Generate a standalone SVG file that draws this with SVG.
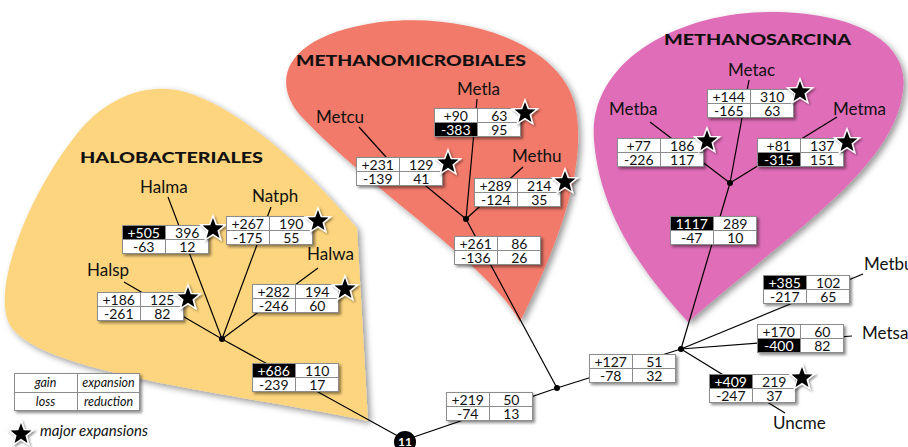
<svg xmlns="http://www.w3.org/2000/svg" xmlns:xlink="http://www.w3.org/1999/xlink" width="908" height="447" viewBox="0 0 908 447">
  <defs>
    <filter id="blobShadow" x="-10%" y="-10%" width="125%" height="125%">
      <feDropShadow dx="3" dy="3" stdDeviation="3" flood-color="#000" flood-opacity="0.4"/>
    </filter>
    <filter id="boxShadow" x="-10%" y="-20%" width="130%" height="160%">
      <feDropShadow dx="2" dy="2" stdDeviation="1.5" flood-color="#000" flood-opacity="0.45"/>
    </filter>
    <filter id="starShadow" x="-40%" y="-40%" width="190%" height="190%">
      <feDropShadow dx="1.5" dy="1.5" stdDeviation="1.2" flood-color="#000" flood-opacity="0.45"/>
    </filter>
    <!-- 2x2 count table: background, then grid drawn on top of any dark cell -->
    <rect id="boxBg" width="87" height="29" fill="#fff" filter="url(#boxShadow)"/>
    <g id="boxGrid" fill="none" stroke="#8c8c8c" stroke-width="1">
      <rect x="0.5" y="0.5" width="86" height="28"/>
      <path d="M43.5 0V29M0 14.5H87"/>
    </g>
    <rect id="darkTL" x="0.5" y="0.5" width="43" height="14" fill="#000"/>
    <rect id="darkBL" x="0.5" y="14.5" width="43" height="14" fill="#000"/>
    <path id="star" d="M0,-11 L2.73,-3.75 L10.46,-3.4 L4.41,1.43 L6.47,8.9 L0,4.64 L-6.47,8.9 L-4.41,1.43 L-10.46,-3.4 L-2.73,-3.75 Z"
          fill="#000" stroke="#fff" stroke-width="3" paint-order="stroke" stroke-linejoin="miter" filter="url(#starShadow)"/>
  </defs>
  <style>
    .lbl { font-family: Lato, "Open Sans", "Liberation Sans", sans-serif; font-size: 17px; fill: #111; }
    .num { font-family: Lato, "Open Sans", "Liberation Sans", sans-serif; font-size: 14px; fill: #111; text-anchor: middle; }
    .inv { fill: #fff; }
    .title { font-family: Lato, "Liberation Sans", sans-serif; font-weight: 900; font-size: 15.5px; fill: #111; }
    .legend { font-family: Lato, "Open Sans", "Liberation Sans", sans-serif; font-style: italic; fill: #111; }
    .edge { fill: none; stroke: #000; stroke-width: 1.2; }
    .dot { fill: #000; }
  </style>

  <!-- clade backgrounds -->
  <g id="clades">
    <path id="halobacteriales-bg" d="M368 421 C250 395, 40 375, 10 325 C-10 290, 30 190, 80 130 C110 95, 150 82, 185 92 C230 105, 290 150, 357 228 Z" fill="#fdd57e" filter="url(#blobShadow)"/>
    <path id="methanomicrobiales-bg" d="M520 322 C490 265, 370 190, 300 115 C270 80, 285 35, 380 22 C470 12, 560 45, 575 105 C588 165, 560 240, 520 322 Z" fill="#f27a6a" filter="url(#blobShadow)"/>
    <path id="methanosarcina-bg" d="M688 322 C650 280, 600 220, 594 140 C588 60, 680 12, 770 12 C860 12, 910 45, 903 90 C895 170, 780 240, 688 322 Z" fill="#e06db8" filter="url(#blobShadow)"/>
  </g>

  <g id="clade-titles">
    <text class="title" x="80" y="163" textLength="183" lengthAdjust="spacingAndGlyphs">HALOBACTERIALES</text>
    <text class="title" x="296" y="66" textLength="230" lengthAdjust="spacingAndGlyphs">METHANOMICROBIALES</text>
    <text class="title" x="664" y="45" textLength="187" lengthAdjust="spacingAndGlyphs">METHANOSARCINA</text>
  </g>

  <!-- branches -->
  <g id="connectors">
    <polyline class="edge" points="168,197 222,339"/>
    <polyline class="edge" points="271,207 222,339"/>
    <polyline class="edge" points="318,268 222,339"/>
    <polyline class="edge" points="124,282 222,339"/>
    <polyline class="edge" points="222,339 405,440"/>
    <polyline class="edge" points="405,440 557,388"/>
    <polyline class="edge" points="557,388 681,349"/>
    <polyline class="edge" points="557,388 466,219"/>
    <polyline class="edge" points="477,99 466,219"/>
    <polyline class="edge" points="359,127 386,157 426,186 466,219"/>
    <polyline class="edge" points="523,167 466,219"/>
    <polyline class="edge" points="730,183 681,349"/>
    <polyline class="edge" points="749,80 730,183"/>
    <polyline class="edge" points="650,122 730,183"/>
    <polyline class="edge" points="837,117 730,183"/>
    <polyline class="edge" points="681,349 863,274"/>
    <polyline class="edge" points="681,349 852,336"/>
    <polyline class="edge" points="681,349 785,413"/>
    <circle class="dot" cx="222" cy="339" r="3"/>
    <circle class="dot" cx="466" cy="219" r="3"/>
    <circle class="dot" cx="730" cy="183" r="3"/>
    <circle class="dot" cx="557" cy="388" r="3"/>
    <circle class="dot" cx="681" cy="349" r="3"/>
  </g>

  <!-- Halobacteriales -->
  <g id="halma">
    <text class="lbl" x="140" y="193">Halma</text>
    <g transform="translate(122,225)">
      <use href="#boxBg"/><use href="#darkTL"/><use href="#boxGrid"/>
      <text class="num inv" x="21.75" y="12.5">+505</text><text class="num" x="65.25" y="12.5">396</text>
      <text class="num" x="21.75" y="27">-63</text><text class="num" x="65.25" y="27">12</text>
    </g>
    <use href="#star" x="213" y="229"/>
  </g>
  <g id="natph">
    <text class="lbl" x="252" y="202">Natph</text>
    <g transform="translate(226,216)">
      <use href="#boxBg"/><use href="#boxGrid"/>
      <text class="num" x="21.75" y="12.5">+267</text><text class="num" x="65.25" y="12.5">190</text>
      <text class="num" x="21.75" y="27">-175</text><text class="num" x="65.25" y="27">55</text>
    </g>
    <use href="#star" x="318" y="221"/>
  </g>
  <g id="halwa">
    <text class="lbl" x="307" y="260">Halwa</text>
    <g transform="translate(252,284)">
      <use href="#boxBg"/><use href="#boxGrid"/>
      <text class="num" x="21.75" y="12.5">+282</text><text class="num" x="65.25" y="12.5">194</text>
      <text class="num" x="21.75" y="27">-246</text><text class="num" x="65.25" y="27">60</text>
    </g>
    <use href="#star" x="345" y="289"/>
  </g>
  <g id="halsp">
    <text class="lbl" x="87" y="276">Halsp</text>
    <g transform="translate(97,292)">
      <use href="#boxBg"/><use href="#boxGrid"/>
      <text class="num" x="21.75" y="12.5">+186</text><text class="num" x="65.25" y="12.5">125</text>
      <text class="num" x="21.75" y="27">-261</text><text class="num" x="65.25" y="27">82</text>
    </g>
    <use href="#star" x="188" y="298"/>
  </g>
  <g id="halobacteriales-stem">
    <g transform="translate(252,363)">
      <use href="#boxBg"/><use href="#darkTL"/><use href="#boxGrid"/>
      <text class="num inv" x="21.75" y="12.5">+686</text><text class="num" x="65.25" y="12.5">110</text>
      <text class="num" x="21.75" y="27">-239</text><text class="num" x="65.25" y="27">17</text>
    </g>
  </g>

  <!-- Methanomicrobiales -->
  <g id="metla">
    <text class="lbl" x="457" y="95">Metla</text>
    <g transform="translate(434,108)">
      <use href="#boxBg"/><use href="#darkBL"/><use href="#boxGrid"/>
      <text class="num" x="21.75" y="12.5">+90</text><text class="num" x="65.25" y="12.5">63</text>
      <text class="num inv" x="21.75" y="27">-383</text><text class="num" x="65.25" y="27">95</text>
    </g>
    <use href="#star" x="525" y="113"/>
  </g>
  <g id="metcu">
    <text class="lbl" x="316" y="123">Metcu</text>
    <g transform="translate(356,157)">
      <use href="#boxBg"/><use href="#boxGrid"/>
      <text class="num" x="21.75" y="12.5">+231</text><text class="num" x="65.25" y="12.5">129</text>
      <text class="num" x="21.75" y="27">-139</text><text class="num" x="65.25" y="27">41</text>
    </g>
    <use href="#star" x="448" y="163"/>
  </g>
  <g id="methu">
    <text class="lbl" x="512" y="162">Methu</text>
    <g transform="translate(474,178)">
      <use href="#boxBg"/><use href="#boxGrid"/>
      <text class="num" x="21.75" y="12.5">+289</text><text class="num" x="65.25" y="12.5">214</text>
      <text class="num" x="21.75" y="27">-124</text><text class="num" x="65.25" y="27">35</text>
    </g>
    <use href="#star" x="565" y="182"/>
  </g>
  <g id="methanomicrobiales-stem">
    <g transform="translate(454,236)">
      <use href="#boxBg"/><use href="#boxGrid"/>
      <text class="num" x="21.75" y="12.5">+261</text><text class="num" x="65.25" y="12.5">86</text>
      <text class="num" x="21.75" y="27">-136</text><text class="num" x="65.25" y="27">26</text>
    </g>
  </g>

  <!-- Methanosarcina -->
  <g id="metac">
    <text class="lbl" x="728" y="76">Metac</text>
    <g transform="translate(707,89)">
      <use href="#boxBg"/><use href="#boxGrid"/>
      <text class="num" x="21.75" y="12.5">+144</text><text class="num" x="65.25" y="12.5">310</text>
      <text class="num" x="21.75" y="27">-165</text><text class="num" x="65.25" y="27">63</text>
    </g>
    <use href="#star" x="800" y="92"/>
  </g>
  <g id="metba">
    <text class="lbl" x="609" y="115">Metba</text>
    <g transform="translate(617,138)">
      <use href="#boxBg"/><use href="#boxGrid"/>
      <text class="num" x="21.75" y="12.5">+77</text><text class="num" x="65.25" y="12.5">186</text>
      <text class="num" x="21.75" y="27">-226</text><text class="num" x="65.25" y="27">117</text>
    </g>
    <use href="#star" x="707" y="141"/>
  </g>
  <g id="metma">
    <text class="lbl" x="833" y="115">Metma</text>
    <g transform="translate(757,138)">
      <use href="#boxBg"/><use href="#darkBL"/><use href="#boxGrid"/>
      <text class="num" x="21.75" y="12.5">+81</text><text class="num" x="65.25" y="12.5">137</text>
      <text class="num inv" x="21.75" y="27">-315</text><text class="num" x="65.25" y="27">151</text>
    </g>
    <use href="#star" x="847" y="142"/>
  </g>
  <g id="methanosarcina-stem">
    <g transform="translate(670,216)">
      <use href="#boxBg"/><use href="#darkTL"/><use href="#boxGrid"/>
      <text class="num inv" x="21.75" y="12.5">1117</text><text class="num" x="65.25" y="12.5">289</text>
      <text class="num" x="21.75" y="27">-47</text><text class="num" x="65.25" y="27">10</text>
    </g>
  </g>

  <!-- remaining Methanosarcinales -->
  <g id="metbu">
    <text class="lbl" x="864" y="270">Metbu</text>
    <g transform="translate(763,275)">
      <use href="#boxBg"/><use href="#darkTL"/><use href="#boxGrid"/>
      <text class="num inv" x="21.75" y="12.5">+385</text><text class="num" x="65.25" y="12.5">102</text>
      <text class="num" x="21.75" y="27">-217</text><text class="num" x="65.25" y="27">65</text>
    </g>
  </g>
  <g id="metsa">
    <text class="lbl" x="862" y="339">Metsa</text>
    <g transform="translate(757,324)">
      <use href="#boxBg"/><use href="#darkBL"/><use href="#boxGrid"/>
      <text class="num" x="21.75" y="12.5">+170</text><text class="num" x="65.25" y="12.5">60</text>
      <text class="num inv" x="21.75" y="27">-400</text><text class="num" x="65.25" y="27">82</text>
    </g>
  </g>
  <g id="uncme">
    <text class="lbl" x="773" y="429">Uncme</text>
    <g transform="translate(709,374)">
      <use href="#boxBg"/><use href="#darkTL"/><use href="#boxGrid"/>
      <text class="num inv" x="21.75" y="12.5">+409</text><text class="num" x="65.25" y="12.5">219</text>
      <text class="num" x="21.75" y="27">-247</text><text class="num" x="65.25" y="27">37</text>
    </g>
    <use href="#star" x="802" y="378"/>
  </g>
  <g id="methanosarcinales-stem">
    <g transform="translate(589,354)">
      <use href="#boxBg"/><use href="#boxGrid"/>
      <text class="num" x="21.75" y="12.5">+127</text><text class="num" x="65.25" y="12.5">51</text>
      <text class="num" x="21.75" y="27">-78</text><text class="num" x="65.25" y="27">32</text>
    </g>
  </g>
  <g id="methanomicrobia-stem">
    <g transform="translate(446,392)">
      <use href="#boxBg"/><use href="#boxGrid"/>
      <text class="num" x="21.75" y="12.5">+219</text><text class="num" x="65.25" y="12.5">50</text>
      <text class="num" x="21.75" y="27">-74</text><text class="num" x="65.25" y="27">13</text>
    </g>
  </g>

  <!-- root -->
  <g id="root">
    <circle cx="405" cy="442" r="11" fill="#000"/>
    <text x="405" y="446" text-anchor="middle" font-family="Lato, 'Liberation Sans', sans-serif" font-weight="bold" font-size="12" fill="#fff">11</text>
  </g>

  <!-- key -->
  <g id="legend">
    <rect x="14" y="373" width="126" height="38" fill="#fff" filter="url(#boxShadow)"/>
    <g fill="none" stroke="#8c8c8c">
      <rect x="14.5" y="373.5" width="125" height="37"/>
      <path d="M77.5 373V411M14 392.5H140"/>
    </g>
    <text class="legend" x="45.5" y="387" font-size="12.5" text-anchor="middle">gain</text>
    <text class="legend" x="108.5" y="387" font-size="12.5" text-anchor="middle">expansion</text>
    <text class="legend" x="45.5" y="406" font-size="12.5" text-anchor="middle">loss</text>
    <text class="legend" x="108.5" y="406" font-size="12.5" text-anchor="middle">reduction</text>
    <use href="#star" x="21" y="434"/>
    <text class="legend" x="40" y="436" font-size="15">major expansions</text>
  </g>
</svg>
